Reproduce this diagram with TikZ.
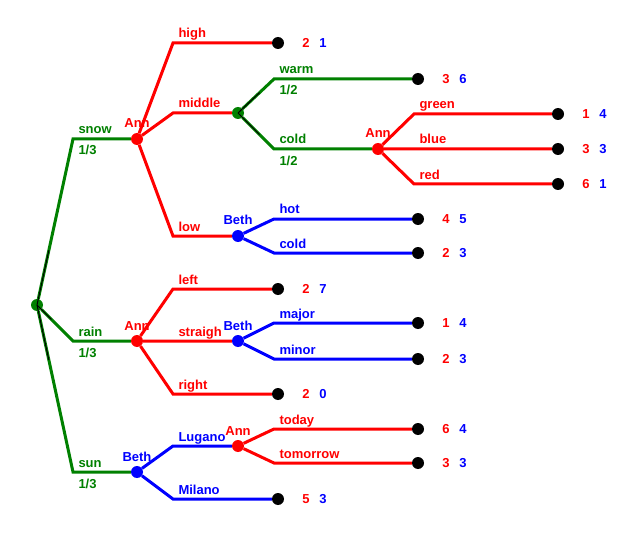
\documentclass[tikz,border=0pt]{standalone}
\usepackage{fontspec}
\setmainfont{Liberation Sans}
\usetikzlibrary{calc}
\definecolor{dgreen}{RGB}{0,128,0}
\tikzset{
  move/.style={line width=3pt},
  dot/.style={circle,fill=#1,inner sep=0pt,minimum size=12pt},
  txt/.style={font=\fontsize{13}{15}\selectfont\bfseries,inner sep=0pt},
  act/.style={txt,anchor=base west,xshift=4pt,yshift=5pt},
  prob/.style={txt,anchor=base west,xshift=4pt,yshift=-16pt},
  pay/.style={txt},
  trace/.style={draw=black,line width=1pt}
}
\newcommand{\payoff}[3]{%
  \node[pay,text=red] at ([xshift=28pt]#1.center) {#2};
  \node[pay,text=blue] at ([xshift=45pt]#1.center) {#3};}
\newcommand{\player}[3]{%
  \node[txt,anchor=base,text=#2] at ([yshift=11pt]#1.center) {#3};}
\begin{document}
\begin{tikzpicture}[x=1pt,y=-1pt]
        \useasboundingbox (0,0) rectangle (633,535);

        % Define vertices
        \node[dot=dgreen] (root) at (37,305) {};
        \node[dot=red] (ann1) at (137,139) {};
        \node[dot=red] (ann3) at (137,341) {};
        \node[dot=blue] (beth3) at (137,472) {};
        \node[dot=dgreen] (chance) at (238,113) {};
        \node[dot=blue] (beth1) at (238,236) {};
        \node[dot=blue] (beth2) at (238,341) {};
        \node[dot=red] (ann4) at (238,446) {};
        \node[dot=red] (ann2) at (378,149) {};

        % End vertices
        \node[dot=black] (thigh) at (278,43) {};
        \node[dot=black] (twarm) at (418,79) {};
        \node[dot=black] (tgreen) at (558,114) {};
        \node[dot=black] (tblue) at (558,149) {};
        \node[dot=black] (tred) at (558,184) {};
        \node[dot=black] (thot) at (418,219) {};
        \node[dot=black] (tcold) at (418,253) {};
        \node[dot=black] (tleft) at (278,289) {};
        \node[dot=black] (tmajor) at (418,323) {};
        \node[dot=black] (tminor) at (418,359) {};
        \node[dot=black] (tright) at (278,394) {};
        \node[dot=black] (ttoday) at (418,429) {};
        \node[dot=black] (ttom) at (418,463) {};
        \node[dot=black] (tmil) at (278,499) {};

        % Bends
        \coordinate (bsnow) at (73,139);
        \coordinate (brain) at (73,341);
        \coordinate (bsun) at (73,472);
        \coordinate (bhigh) at (173,43);
        \coordinate (bmid) at (173,113);
        \coordinate (blow) at (173,236);
        \coordinate (bwarm) at (274,79);
        \coordinate (bcold) at (274,149);
        \coordinate (bgreen) at (414,114);
        \coordinate (bblue) at (414,149);
        \coordinate (bred) at (414,184);
        \coordinate (bhot) at (274,219);
        \coordinate (bcool) at (274,253);
        \coordinate (bleft) at (173,289);
        \coordinate (bstr) at (173,341);
        \coordinate (bright) at (173,394);
        \coordinate (bmajor) at (274,323);
        \coordinate (bminor) at (274,359);
        \coordinate (blug) at (173,446);
        \coordinate (bmil) at (173,499);
        \coordinate (btoday) at (274,429);
        \coordinate (btom) at (274,463);

        % Draw edges
        \path[move,draw=dgreen,every node/.style={text=dgreen}]
            (root) -- (bsnow) node[act] {snow} node[prob] {1/3} -- (ann1)
            (root) -- (brain) node[act] {rain} node[prob] {1/3} -- (ann3)
            (root) -- (bsun) node[act] {sun} node[prob] {1/3} -- (beth3)
            (chance) -- (bwarm) node[act] {warm} node[prob] {1/2} -- (twarm)
            (chance) -- (bcold) node[act] {cold} node[prob] {1/2} -- (ann2);
        \path[move,draw=red,every node/.style={text=red}]
            (ann1) -- (bhigh) node[act] {high} -- (thigh)
            (ann1) -- (bmid) node[act] {middle} -- (chance)
            (ann1) -- (blow) node[act] {low} -- (beth1)
            (ann2) -- (bgreen) node[act] {green} -- (tgreen)
            (ann2) -- (bblue) node[act] {blue} -- (tblue)
            (ann2) -- (bred) node[act] {red} -- (tred)
            (ann3) -- (bleft) node[act] {left} -- (tleft)
            (ann3) -- (bstr) node[act] {straigh} -- (beth2)
            (ann3) -- (bright) node[act] {right} -- (tright)
            (ann4) -- (btoday) node[act] {today} -- (ttoday)
            (ann4) -- (btom) node[act] {tomorrow} -- (ttom);
        \path[move,draw=blue,every node/.style={text=blue}]
            (beth1) -- (bhot) node[act] {hot} -- (thot)
            (beth1) -- (bcool) node[act] {cold} -- (tcold)
            (beth2) -- (bmajor) node[act] {major} -- (tmajor)
            (beth2) -- (bminor) node[act] {minor} -- (tminor)
            (beth3) -- (blug) node[act] {Lugano} -- (ann4)
            (beth3) -- (bmil) node[act] {Milano} -- (tmil);

        % Dark traces near chance nodes
        \draw[trace] (root.center) -- ($(root)!0.33!(bsnow)$);
        \draw[trace] (root.center) -- ($(root)!0.4!(brain)$);
        \draw[trace] (root.center) -- ($(root)!0.33!(bsun)$);
        \draw[trace] (chance.center) -- ($(chance)!0.6!(bwarm)$);
        \draw[trace] (chance.center) -- ($(chance)!0.6!(bcold)$);

        % Players
        \player{ann1}{red}{Ann}
        \player{ann2}{red}{Ann}
        \player{ann3}{red}{Ann}
        \player{ann4}{red}{Ann}
        \player{beth1}{blue}{Beth}
        \player{beth2}{blue}{Beth}
        \player{beth3}{blue}{Beth}

        % Payoffs
        \payoff{thigh}{2}{1}
        \payoff{twarm}{3}{6}
        \payoff{tgreen}{1}{4}
        \payoff{tblue}{3}{3}
        \payoff{tred}{6}{1}
        \payoff{thot}{4}{5}
        \payoff{tcold}{2}{3}
        \payoff{tleft}{2}{7}
        \payoff{tmajor}{1}{4}
        \payoff{tminor}{2}{3}
        \payoff{tright}{2}{0}
        \payoff{ttoday}{6}{4}
        \payoff{ttom}{3}{3}
        \payoff{tmil}{5}{3}

\end{tikzpicture}
\end{document}
